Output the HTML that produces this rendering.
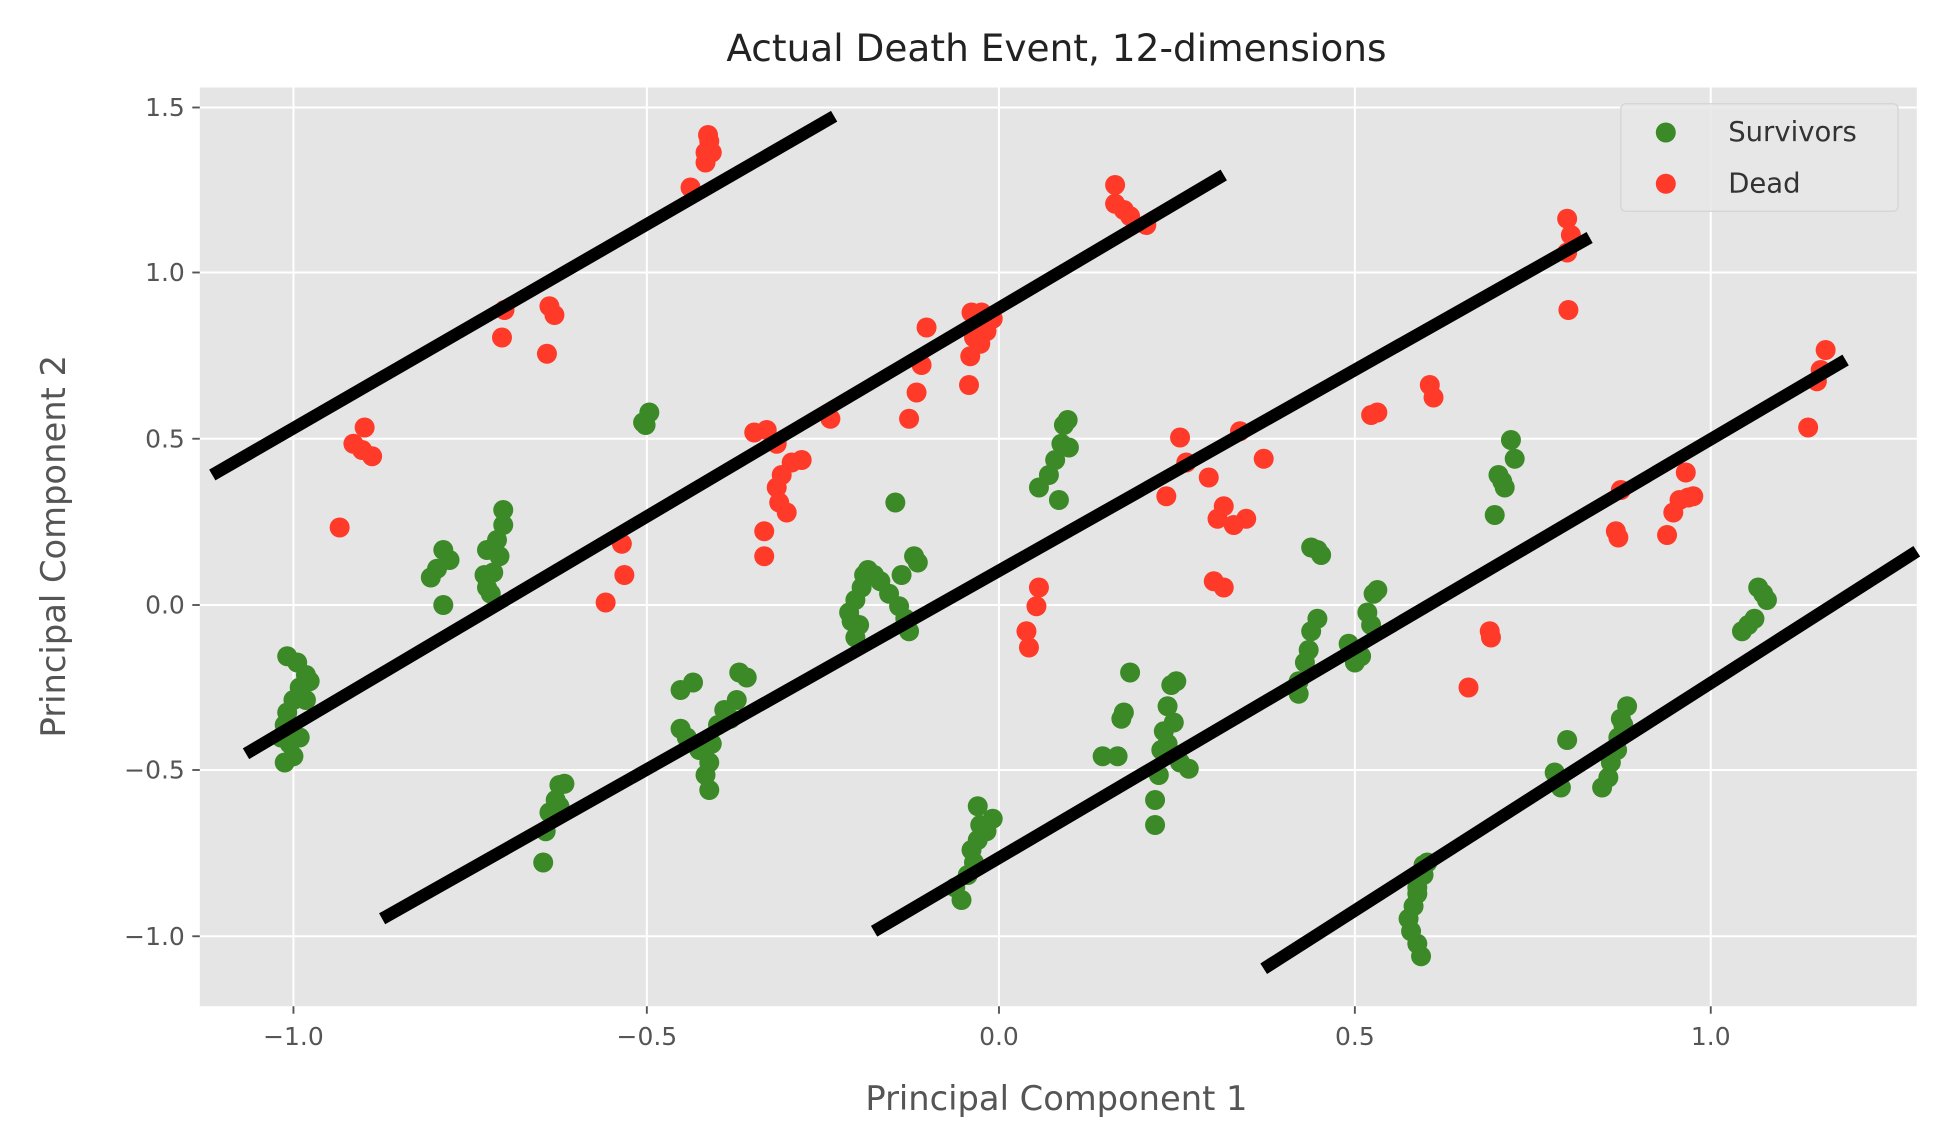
<!DOCTYPE html>
<html><head><meta charset="utf-8"><style>html,body{margin:0;padding:0;background:#fff}svg{display:block}</style></head>
<body>
<svg width="1958" height="1140" viewBox="0 0 1568 912" preserveAspectRatio="none" xmlns="http://www.w3.org/2000/svg" font-family="'DejaVu Sans','Liberation Sans',sans-serif">
<rect x="160" y="70" width="1375" height="735" fill="#e5e5e5"/>
<g stroke="#fff" stroke-width="1.6">
<line x1="235" y1="70" x2="235" y2="805"/><line x1="518" y1="70" x2="518" y2="805"/><line x1="800" y1="70" x2="800" y2="805"/><line x1="1085" y1="70" x2="1085" y2="805"/><line x1="1370" y1="70" x2="1370" y2="805"/>
<line x1="160" y1="86" x2="1535" y2="86"/><line x1="160" y1="218" x2="1535" y2="218"/><line x1="160" y1="351" x2="1535" y2="351"/><line x1="160" y1="484" x2="1535" y2="484"/><line x1="160" y1="616" x2="1535" y2="616"/><line x1="160" y1="749" x2="1535" y2="749"/>
</g>
<g stroke="#555" stroke-width="1.5">
<line x1="235" y1="805" x2="235" y2="811"/><line x1="518" y1="805" x2="518" y2="811"/><line x1="800" y1="805" x2="800" y2="811"/><line x1="1085" y1="805" x2="1085" y2="811"/><line x1="1370" y1="805" x2="1370" y2="811"/>
<line x1="154" y1="86" x2="160" y2="86"/><line x1="154" y1="218" x2="160" y2="218"/><line x1="154" y1="351" x2="160" y2="351"/><line x1="154" y1="484" x2="160" y2="484"/><line x1="154" y1="616" x2="160" y2="616"/><line x1="154" y1="749" x2="160" y2="749"/>
</g>
<g fill="#555" font-size="20" text-anchor="middle">
<text x="235" y="836">−1.0</text><text x="518" y="836">−0.5</text><text x="800" y="836">0.0</text><text x="1085" y="836">0.5</text><text x="1370" y="836">1.0</text>
</g>
<g fill="#555" font-size="20" text-anchor="end">
<text x="148" y="93">1.5</text><text x="148" y="225">1.0</text><text x="148" y="358">0.5</text><text x="148" y="491">0.0</text><text x="148" y="623">−0.5</text><text x="148" y="756">−1.0</text>
</g>
<text x="846" y="49" font-size="30" text-anchor="middle" fill="#222">Actual Death Event, 12-dimensions</text>
<text x="846" y="888" font-size="27" text-anchor="middle" fill="#555">Principal Component 1</text>
<text transform="translate(52,437) rotate(-90)" font-size="27" text-anchor="middle" fill="#555">Principal Component 2</text>
<g fill="#3b8a27">
<circle cx="230" cy="525" r="8"/><circle cx="238" cy="530" r="8"/><circle cx="245" cy="540" r="8"/><circle cx="240" cy="550" r="8"/><circle cx="235" cy="560" r="8"/><circle cx="230" cy="570" r="8"/><circle cx="245" cy="560" r="8"/><circle cx="228" cy="580" r="8"/><circle cx="232" cy="595" r="8"/><circle cx="228" cy="610" r="8"/><circle cx="235" cy="605" r="8"/><circle cx="240" cy="590" r="8"/><circle cx="248" cy="545" r="8"/><circle cx="225" cy="590" r="8"/>
<circle cx="345" cy="462" r="8"/><circle cx="355" cy="440" r="8"/><circle cx="360" cy="448" r="8"/><circle cx="350" cy="455" r="8"/><circle cx="355" cy="484" r="8"/><circle cx="390" cy="470" r="8"/><circle cx="395" cy="458" r="8"/><circle cx="400" cy="445" r="8"/><circle cx="398" cy="432" r="8"/><circle cx="403" cy="420" r="8"/><circle cx="403" cy="408" r="8"/><circle cx="390" cy="440" r="8"/><circle cx="388" cy="460" r="8"/><circle cx="393" cy="475" r="8"/>
<circle cx="517" cy="340" r="8"/><circle cx="520" cy="330" r="8"/><circle cx="515" cy="338" r="8"/>
<circle cx="448" cy="628" r="8"/><circle cx="452" cy="627" r="8"/><circle cx="445" cy="640" r="8"/><circle cx="440" cy="650" r="8"/><circle cx="437" cy="665" r="8"/><circle cx="435" cy="690" r="8"/><circle cx="448" cy="645" r="8"/>
<circle cx="545" cy="552" r="8"/><circle cx="555" cy="546" r="8"/><circle cx="545" cy="583" r="8"/><circle cx="550" cy="590" r="8"/><circle cx="560" cy="600" r="8"/><circle cx="568" cy="610" r="8"/><circle cx="565" cy="620" r="8"/><circle cx="568" cy="632" r="8"/><circle cx="575" cy="580" r="8"/><circle cx="580" cy="568" r="8"/><circle cx="585" cy="575" r="8"/><circle cx="590" cy="560" r="8"/><circle cx="592" cy="538" r="8"/><circle cx="598" cy="542" r="8"/><circle cx="570" cy="595" r="8"/>
<circle cx="717" cy="402" r="8"/>
<circle cx="680" cy="490" r="8"/><circle cx="685" cy="480" r="8"/><circle cx="690" cy="470" r="8"/><circle cx="692" cy="460" r="8"/><circle cx="695" cy="456" r="8"/><circle cx="688" cy="500" r="8"/><circle cx="685" cy="510" r="8"/><circle cx="700" cy="460" r="8"/><circle cx="705" cy="465" r="8"/><circle cx="712" cy="475" r="8"/><circle cx="720" cy="485" r="8"/><circle cx="725" cy="495" r="8"/><circle cx="728" cy="505" r="8"/><circle cx="735" cy="450" r="8"/><circle cx="732" cy="445" r="8"/><circle cx="722" cy="460" r="8"/><circle cx="682" cy="497" r="8"/>
<circle cx="770" cy="720" r="8"/><circle cx="775" cy="700" r="8"/><circle cx="780" cy="690" r="8"/><circle cx="783" cy="672" r="8"/><circle cx="785" cy="660" r="8"/><circle cx="783" cy="645" r="8"/><circle cx="795" cy="655" r="8"/><circle cx="790" cy="665" r="8"/><circle cx="765" cy="710" r="8"/><circle cx="778" cy="680" r="8"/>
<circle cx="832" cy="390" r="8"/><circle cx="840" cy="380" r="8"/><circle cx="845" cy="368" r="8"/><circle cx="848" cy="400" r="8"/><circle cx="850" cy="355" r="8"/><circle cx="852" cy="340" r="8"/><circle cx="855" cy="336" r="8"/><circle cx="856" cy="358" r="8"/>
<circle cx="883" cy="605" r="8"/><circle cx="895" cy="605" r="8"/><circle cx="900" cy="570" r="8"/><circle cx="905" cy="538" r="8"/><circle cx="898" cy="575" r="8"/><circle cx="925" cy="660" r="8"/><circle cx="925" cy="640" r="8"/><circle cx="928" cy="620" r="8"/><circle cx="930" cy="600" r="8"/><circle cx="932" cy="585" r="8"/><circle cx="935" cy="565" r="8"/><circle cx="938" cy="548" r="8"/><circle cx="942" cy="545" r="8"/><circle cx="935" cy="595" r="8"/><circle cx="945" cy="610" r="8"/><circle cx="952" cy="615" r="8"/><circle cx="940" cy="578" r="8"/>
<circle cx="1040" cy="545" r="8"/><circle cx="1045" cy="530" r="8"/><circle cx="1050" cy="505" r="8"/><circle cx="1055" cy="495" r="8"/><circle cx="1040" cy="555" r="8"/><circle cx="1048" cy="520" r="8"/><circle cx="1050" cy="438" r="8"/><circle cx="1055" cy="440" r="8"/><circle cx="1058" cy="444" r="8"/><circle cx="1080" cy="515" r="8"/><circle cx="1085" cy="530" r="8"/><circle cx="1090" cy="525" r="8"/><circle cx="1095" cy="490" r="8"/><circle cx="1100" cy="475" r="8"/><circle cx="1103" cy="472" r="8"/><circle cx="1098" cy="500" r="8"/>
<circle cx="1135" cy="755" r="8"/><circle cx="1130" cy="745" r="8"/><circle cx="1128" cy="735" r="8"/><circle cx="1132" cy="725" r="8"/><circle cx="1135" cy="715" r="8"/><circle cx="1140" cy="700" r="8"/><circle cx="1143" cy="690" r="8"/><circle cx="1138" cy="765" r="8"/><circle cx="1135" cy="710" r="8"/><circle cx="1140" cy="692" r="8"/>
<circle cx="1197" cy="412" r="8"/><circle cx="1203" cy="385" r="8"/><circle cx="1205" cy="390" r="8"/><circle cx="1210" cy="352" r="8"/><circle cx="1213" cy="367" r="8"/><circle cx="1200" cy="380" r="8"/>
<circle cx="1245" cy="618" r="8"/><circle cx="1250" cy="630" r="8"/><circle cx="1255" cy="592" r="8"/><circle cx="1283" cy="630" r="8"/><circle cx="1288" cy="622" r="8"/><circle cx="1290" cy="610" r="8"/><circle cx="1295" cy="600" r="8"/><circle cx="1298" cy="575" r="8"/><circle cx="1300" cy="580" r="8"/><circle cx="1303" cy="565" r="8"/><circle cx="1296" cy="590" r="8"/>
<circle cx="1395" cy="505" r="8"/><circle cx="1400" cy="500" r="8"/><circle cx="1405" cy="495" r="8"/><circle cx="1408" cy="470" r="8"/><circle cx="1412" cy="475" r="8"/><circle cx="1415" cy="480" r="8"/>
</g>
<g fill="#ff3a28">
<circle cx="567" cy="108" r="8"/><circle cx="568" cy="113" r="8"/><circle cx="565" cy="122" r="8"/><circle cx="565" cy="130" r="8"/><circle cx="570" cy="122" r="8"/><circle cx="553" cy="150" r="8"/>
<circle cx="404" cy="248" r="8"/><circle cx="402" cy="270" r="8"/><circle cx="440" cy="245" r="8"/><circle cx="444" cy="252" r="8"/><circle cx="438" cy="283" r="8"/>
<circle cx="292" cy="342" r="8"/><circle cx="283" cy="355" r="8"/><circle cx="290" cy="360" r="8"/><circle cx="298" cy="365" r="8"/><circle cx="272" cy="422" r="8"/>
<circle cx="498" cy="435" r="8"/><circle cx="500" cy="460" r="8"/><circle cx="485" cy="482" r="8"/>
<circle cx="604" cy="346" r="8"/><circle cx="614" cy="344" r="8"/><circle cx="622" cy="355" r="8"/><circle cx="626" cy="380" r="8"/><circle cx="622" cy="390" r="8"/><circle cx="624" cy="402" r="8"/><circle cx="630" cy="410" r="8"/><circle cx="612" cy="425" r="8"/><circle cx="612" cy="445" r="8"/><circle cx="634" cy="370" r="8"/><circle cx="642" cy="368" r="8"/><circle cx="665" cy="335" r="8"/>
<circle cx="742" cy="262" r="8"/><circle cx="738" cy="292" r="8"/><circle cx="734" cy="314" r="8"/><circle cx="728" cy="335" r="8"/><circle cx="776" cy="308" r="8"/><circle cx="777" cy="285" r="8"/><circle cx="780" cy="270" r="8"/><circle cx="782" cy="258" r="8"/><circle cx="786" cy="250" r="8"/><circle cx="790" cy="265" r="8"/><circle cx="795" cy="255" r="8"/><circle cx="778" cy="250" r="8"/><circle cx="785" cy="275" r="8"/>
<circle cx="893" cy="148" r="8"/><circle cx="893" cy="163" r="8"/><circle cx="900" cy="168" r="8"/><circle cx="905" cy="173" r="8"/><circle cx="918" cy="180" r="8"/>
<circle cx="832" cy="470" r="8"/><circle cx="830" cy="485" r="8"/><circle cx="822" cy="505" r="8"/><circle cx="824" cy="518" r="8"/>
<circle cx="945" cy="350" r="8"/><circle cx="950" cy="370" r="8"/><circle cx="968" cy="382" r="8"/><circle cx="975" cy="415" r="8"/><circle cx="980" cy="405" r="8"/><circle cx="988" cy="420" r="8"/><circle cx="972" cy="465" r="8"/><circle cx="980" cy="470" r="8"/><circle cx="998" cy="415" r="8"/><circle cx="1012" cy="367" r="8"/><circle cx="993" cy="345" r="8"/><circle cx="934" cy="397" r="8"/>
<circle cx="1098" cy="332" r="8"/><circle cx="1103" cy="330" r="8"/><circle cx="1145" cy="308" r="8"/><circle cx="1148" cy="318" r="8"/>
<circle cx="1255" cy="175" r="8"/><circle cx="1258" cy="188" r="8"/><circle cx="1255" cy="202" r="8"/><circle cx="1256" cy="248" r="8"/><circle cx="1194" cy="510" r="8"/><circle cx="1193" cy="505" r="8"/><circle cx="1176" cy="550" r="8"/>
<circle cx="1462" cy="280" r="8"/><circle cx="1458" cy="296" r="8"/><circle cx="1455" cy="305" r="8"/><circle cx="1448" cy="342" r="8"/><circle cx="1298" cy="392" r="8"/><circle cx="1294" cy="425" r="8"/><circle cx="1296" cy="430" r="8"/><circle cx="1340" cy="410" r="8"/><circle cx="1345" cy="400" r="8"/><circle cx="1350" cy="378" r="8"/><circle cx="1352" cy="398" r="8"/><circle cx="1356" cy="397" r="8"/><circle cx="1335" cy="428" r="8"/>
</g>
<g stroke="#000" stroke-width="10">
<line x1="170" y1="380" x2="668" y2="93"/>
<line x1="197" y1="603" x2="980" y2="140"/>
<line x1="306" y1="735" x2="1273" y2="190"/>
<line x1="700" y1="745" x2="1478" y2="288"/>
<line x1="1012" y1="775" x2="1535" y2="441"/>
</g>
<rect x="1298" y="83" width="222" height="86" rx="4" fill="#e8e8e8" fill-opacity="0.85" stroke="#d4d4d4" stroke-width="1"/>
<circle cx="1334" cy="106" r="8" fill="#3b8a27"/>
<circle cx="1334" cy="147" r="8" fill="#ff3a28"/>
<text x="1384" y="113" font-size="22" fill="#333">Survivors</text>
<text x="1384" y="154" font-size="22" fill="#333">Dead</text>
</svg>
</body></html>
